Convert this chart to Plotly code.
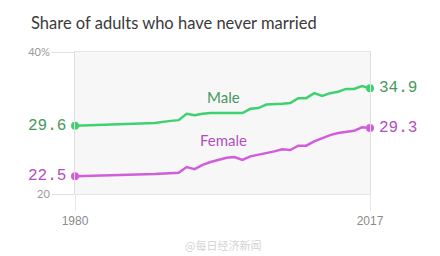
import plotly.graph_objects as go

title = "Share of adults who have never married"

male_years = [1980, 1990, 1992, 1993, 1994, 1995, 1996, 1997, 2001, 2002, 2003, 2004, 2006, 2007,
              2008, 2009, 2010, 2011, 2012, 2013, 2014, 2015, 2016, 2017]
male_vals = [29.6, 30.0, 30.3, 30.4, 31.3, 31.1, 31.3, 31.4, 31.4, 32.0, 32.1, 32.6, 32.7, 32.8,
             33.5, 33.5, 34.2, 33.8, 34.2, 34.4, 34.8, 34.8, 35.2, 34.9]

female_years = [1980, 1990, 1993, 1994, 1995, 1996, 1997, 1998, 1999, 2000, 2001, 2002, 2003, 2004,
                2005, 2006, 2007, 2008, 2009, 2010, 2011, 2012, 2013, 2014, 2015, 2016, 2017]
female_vals = [22.5, 22.8, 23.0, 23.8, 23.5, 24.1, 24.5, 24.8, 25.1, 25.2, 24.8, 25.3, 25.5, 25.8,
               26.0, 26.3, 26.2, 26.8, 26.8, 27.4, 27.9, 28.3, 28.6, 28.8, 28.9, 29.4, 29.3]

series_names = ["Male", "Female"]
x_ticks = [1980, 2017]
y_ticks = [20, 40]
y_ticktext = ["20", "40%"]

line_colors = ["#3fd070", "#d25ddb"]
text_colors = ["#459a5e", "#b24fbf"]
label_pos = [(1998.6, 33.7), (1998.6, 27.6)]

fig = go.Figure()
data = [(male_years, male_vals), (female_years, female_vals)]
for (xs, ys), name, lc in zip(data, series_names, line_colors):
    fig.add_trace(go.Scatter(x=xs, y=ys, mode="lines", line=dict(color=lc, width=2.5),
                             name=name, showlegend=False, hoverinfo="skip", cliponaxis=False))
    fig.add_trace(go.Scatter(x=[xs[0], xs[-1]], y=[ys[0], ys[-1]], mode="markers",
                             marker=dict(color=lc, size=8), showlegend=False, hoverinfo="skip",
                             cliponaxis=False))

annotations = []
for (xs, ys), name, tc, (lx, ly) in zip(data, series_names, text_colors, label_pos):
    annotations.append(dict(x=xs[0], y=ys[0], text=f"{ys[0]:.1f}", showarrow=False,
                            xanchor="right", xshift=-7,
                            font=dict(family="Liberation Mono", size=16, color=tc)))
    annotations.append(dict(x=xs[-1], y=ys[-1], text=f"{ys[-1]:.1f}", showarrow=False,
                            xanchor="left", xshift=7,
                            font=dict(family="Liberation Mono", size=16, color=tc)))
    annotations.append(dict(x=lx, y=ly, text=name, showarrow=False,
                            font=dict(family="Lato", size=15, color=tc)))

annotations.append(dict(xref="paper", yref="paper", x=-0.157, y=1.0, yshift=29,
                        text=title, showarrow=False, xanchor="left", yanchor="middle",
                        font=dict(family="Lato", size=16.5, color="#3a3a3a")))
annotations.append(dict(xref="paper", yref="paper", x=0.5, y=-0.36,
                        text="@每日经济新闻", showarrow=False, xanchor="center", yanchor="middle",
                        font=dict(family="Noto Sans CJK SC", size=11, color="#d4d4d4")))

fig.update_layout(
    width=440, height=256,
    margin=dict(l=75, r=70, t=52, b=62),
    paper_bgcolor="white", plot_bgcolor="#f7f7f7",
    annotations=annotations,
    xaxis=dict(range=[1980, 2017], tickvals=x_ticks, ticktext=[str(v) for v in x_ticks],
               showgrid=False, zeroline=False, showline=True, mirror=True,
               linecolor="#e6e6e6", linewidth=1,
               ticks="outside", ticklen=16, tickcolor="#e6e6e6", tickwidth=1,
               tickfont=dict(family="Liberation Sans", size=12, color="#8a8a8a")),
    yaxis=dict(range=[20, 40], tickvals=y_ticks, ticktext=y_ticktext,
               showgrid=False, zeroline=False, showline=True, mirror=True,
               linecolor="#e0e0e0", linewidth=1,
               ticks="outside", ticklen=22, tickcolor="#e0e0e0", tickwidth=1,
               tickfont=dict(family="Lato", size=11, color="#999999")),
)

fig.write_html("out.html")
